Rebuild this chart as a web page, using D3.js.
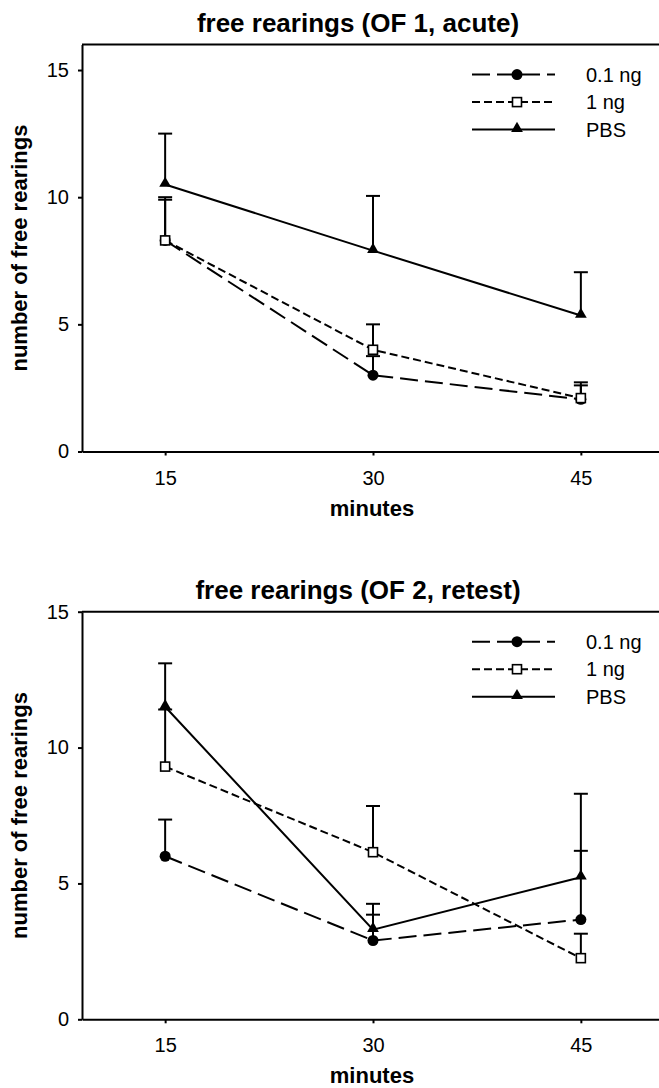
<!DOCTYPE html>
<meta charset="utf-8">
<style>
body { margin: 0; background: #fff; }
svg { display: block; font-family: "Liberation Sans", Arial, sans-serif; }
.axis path, .axis line { stroke: #000; stroke-width: 2; }
.axis text { font-size: 20px; fill: #000; }
</style>
<svg width="659" height="1088"></svg>
<script src="https://d3js.org/d3.v7.min.js"></script>
<script>

// x values (minutes)
var minutes = [15, 30, 45];
var seriesNames = ["0.1 ng", "1 ng", "PBS"];

// OF 1, acute: means and upper end of error bars
var acute01 = [8.3, 3.0, 2.05];
var acute01Hi = [10.0, 3.75, 2.6];
var acute1 = [8.3, 4.0, 2.1];
var acute1Hi = [9.9, 5.0, 2.72];
var acutePBS = [10.5, 7.9, 5.35];
var acutePBSHi = [12.5, 10.05, 7.05];

// OF 2, retest
var retest01 = [6.0, 2.9, 3.67];
var retest01Hi = [7.35, 3.85, 6.2];
var retest1 = [9.3, 6.15, 2.25];
var retest1Hi = [11.4, 7.85, 3.15];
var retestPBS = [11.5, 3.3, 5.23];
var retestPBSHi = [13.1, 4.25, 8.3];

var yTicks = [0, 5, 10, 15];

var svg = d3.select("svg");

var styles = [
  { dash: "18,7", marker: "circle" },
  { dash: "8,4", marker: "square" },
  { dash: null, marker: "triangle" }
];

function drawMarker(g, type, x, y) {
  if (type == "circle") {
    g.append("circle").attr("cx", x).attr("cy", y).attr("r", 5.5).attr("fill", "#000");
  } else if (type == "square") {
    g.append("rect").attr("x", x - 4.5).attr("y", y - 4.5).attr("width", 9).attr("height", 9)
      .attr("fill", "#fff").attr("stroke", "#000").attr("stroke-width", 1.6);
  } else {
    g.append("path").attr("d", d3.symbol().type(d3.symbolTriangle).size(60)())
      .attr("transform", "translate(" + x + "," + (y - 1) + ")").attr("fill", "#000");
  }
}

function panel(opts) {
  var x = d3.scaleLinear().domain([9, 51]).range([82, 664]);
  var y = d3.scaleLinear().domain([0, opts.yMax]).range([opts.bottom, opts.top]);
  var g = svg.append("g");

  // title
  g.append("text")
    .attr("x", 358).attr("y", opts.top - 13)
    .attr("text-anchor", "middle")
    .attr("font-size", "26px").attr("font-weight", "bold")
    .text(opts.title);

  // frame (right side is cut off by the picture edge)
  g.append("line").attr("x1", x.range()[0]).attr("x2", x.range()[1])
    .attr("y1", opts.top).attr("y2", opts.top).attr("stroke", "#000").attr("stroke-width", 2);
  g.append("line").attr("x1", x.range()[1]).attr("x2", x.range()[1])
    .attr("y1", opts.top).attr("y2", opts.bottom).attr("stroke", "#000").attr("stroke-width", 2);

  g.append("g").attr("class", "axis")
    .attr("transform", "translate(0," + opts.bottom + ")")
    .call(d3.axisBottom(x).tickValues(minutes).tickSize(4).tickPadding(15).tickSizeOuter(0));
  g.append("g").attr("class", "axis")
    .attr("transform", "translate(" + x.range()[0] + ",0)")
    .call(d3.axisLeft(y).tickValues(yTicks).tickSize(4).tickPadding(9).tickSizeOuter(0));

  g.append("text")
    .attr("x", 372).attr("y", opts.bottom + 64)
    .attr("text-anchor", "middle")
    .attr("font-size", "22px").attr("font-weight", "bold")
    .text("minutes");

  g.append("text")
    .attr("transform", "translate(27," + ((opts.top + opts.bottom) / 2) + ") rotate(-90)")
    .attr("text-anchor", "middle")
    .attr("font-size", "22px").attr("font-weight", "bold")
    .text("number of free rearings");

  var line = d3.line().x((d, i) => x(minutes[i])).y(d => y(d));

  // error bars
  opts.series.forEach(function(s, k) {
    s.vals.forEach(function(v, i) {
      var cx = x(minutes[i]);
      g.append("line").attr("x1", cx).attr("x2", cx)
        .attr("y1", y(v)).attr("y2", y(s.hi[i]))
        .attr("stroke", "#000").attr("stroke-width", 2);
      g.append("line").attr("x1", cx - 7).attr("x2", cx + 7)
        .attr("y1", y(s.hi[i])).attr("y2", y(s.hi[i]))
        .attr("stroke", "#000").attr("stroke-width", 2);
    });
  });

  // lines
  opts.series.forEach(function(s, k) {
    g.append("path").attr("d", line(s.vals))
      .attr("fill", "none").attr("stroke", "#000").attr("stroke-width", 2)
      .attr("stroke-dasharray", styles[k].dash);
  });

  // markers
  opts.series.forEach(function(s, k) {
    s.vals.forEach(function(v, i) {
      drawMarker(g, styles[k].marker, x(minutes[i]), y(v));
    });
  });

  // legend
  var lg = g.append("g");
  seriesNames.forEach(function(name, k) {
    var ly = opts.top + 30 + k * 27.5;
    lg.append("line").attr("x1", 472).attr("x2", 555).attr("y1", ly).attr("y2", ly)
      .attr("stroke", "#000").attr("stroke-width", 2)
      .attr("stroke-dasharray", styles[k].dash);
    drawMarker(lg, styles[k].marker, 517, ly);
    lg.append("text").attr("x", 586).attr("y", ly).attr("dy", "0.36em")
      .attr("font-size", "20px").text(name);
  });
}

panel({
  title: "free rearings (OF 1, acute)",
  top: 44.6, bottom: 451.5, yMax: 16,
  series: [
    { vals: acute01, hi: acute01Hi },
    { vals: acute1, hi: acute1Hi },
    { vals: acutePBS, hi: acutePBSHi }
  ]
});

panel({
  title: "free rearings (OF 2, retest)",
  top: 611.7, bottom: 1019.3, yMax: 15,
  series: [
    { vals: retest01, hi: retest01Hi },
    { vals: retest1, hi: retest1Hi },
    { vals: retestPBS, hi: retestPBSHi }
  ]
});

</script>
